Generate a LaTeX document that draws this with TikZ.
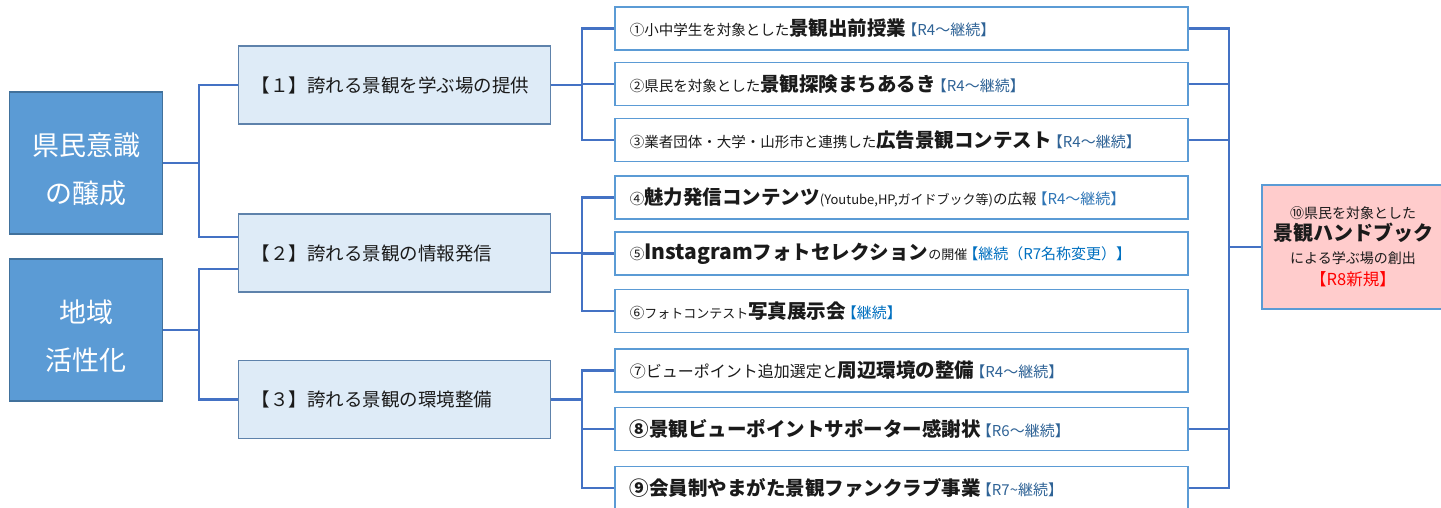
\documentclass[tikz,border=0pt]{standalone}
\usepackage{fontspec}
\setmainfont{Noto Sans CJK JP}
\usetikzlibrary{calc}
\definecolor{leftfill}{HTML}{5B9BD5}
\definecolor{leftdraw}{HTML}{41719C}
\definecolor{midfill}{HTML}{DEEBF7}
\definecolor{middraw}{HTML}{5E82AB}
\definecolor{smalldraw}{HTML}{5B9BD5}
\definecolor{connc}{HTML}{4472C4}
\definecolor{tagdark}{HTML}{2F6396}
\definecolor{tagmid}{HTML}{2E75B6}
\definecolor{tagbright}{HTML}{0070C0}
\definecolor{pinkfill}{HTML}{FFCCCC}
\definecolor{txt}{HTML}{1A1A1A}
\newcommand\nrm[1]{{\fontsize{14.5}{17}\selectfont #1}}
\newcommand\sml[1]{{\fontsize{13}{17}\selectfont #1}}
\newcommand\bld[1]{{\fontsize{19.5}{22}\selectfont\bfseries #1}}
\newcommand\tagtxt[2]{{\fontsize{15}{17}\selectfont\color{#1}\kern-4pt#2}}
\begin{document}
\begin{tikzpicture}[x=1pt,y=-1pt,
  leftbox/.style={draw=leftdraw, line width=1.5pt, fill=leftfill,
    minimum width=153pt, minimum height=142pt},
  lefttext/.style={text=white, align=center, font=\fontsize{27}{48}\selectfont},
  midbox/.style={draw=middraw, line width=1.4pt, fill=midfill, text=txt,
    anchor=west, text width=286pt, inner xsep=13pt, minimum height=78pt,
    align=left, font=\fontsize{18.5}{22}\selectfont},
  sbox/.style={draw=smalldraw, line width=1.8pt, fill=white, text=txt,
    anchor=west, text width=543pt, inner xsep=15pt, inner ysep=0pt,
    minimum height=43pt, align=left},
  conn/.style={draw=connc, line width=2.6pt}]
\useasboundingbox (0,0) rectangle (1441,508);
\clip (0,0) rectangle (1441,508);
\fill[white] (0,0) rectangle (1441,508);

% left boxes
\node[leftbox] (L1) at (86,163) {};
\node[lefttext] (L1t) at (86,169) {県民意識\\の醸成};
\node[leftbox] (L2) at (86,330) {};
\node[lefttext] (L2t) at (86,336) {地域\\活性化};

% middle boxes
\node[midbox] (M1) at (238,85) {【１】誇れる景観を学ぶ場の提供};
\node[midbox] (M2) at (238,253) {【２】誇れる景観の情報発信};
\node[midbox] (M3) at (238,399.5) {【３】誇れる景観の環境整備};

% small boxes
\node[sbox] (S1) at (614,28.5) {\nrm{①小中学生を対象とした}\bld{景観出前授業}\tagtxt{tagdark}{【R4～継続】}};
\node[sbox] (S2) at (614,84) {\nrm{②県民を対象とした}\bld{景観探険まちあるき}\tagtxt{tagdark}{【R4～継続】}};
\node[sbox] (S3) at (614,140) {\nrm{③業者団体・大学・山形市と連携した}\bld{広告景観コンテスト}\tagtxt{tagdark}{【R4～継続】}};
\node[sbox] (S4) at (614,197.5) {\nrm{④}\bld{魅力発信コンテンツ}\sml{(Youtube,HP,ガイドブック等)}\nrm{の広報}\tagtxt{tagmid}{【R4～継続】}};
\node[sbox] (S5) at (614,253.5) {\nrm{⑤}{\fontsize{21}{22}\selectfont\bfseries Instagram}\bld{フォトセレクション}\sml{の開催}\tagtxt{tagbright}{【継続（R7名称変更）】}};
\node[sbox] (S6) at (614,311) {\nrm{⑥}\sml{フォトコンテスト}\bld{写真展示会}\tagtxt{tagbright}{【継続】}};
\node[sbox] (S7) at (614,370.5) {{\fontsize{16}{17}\selectfont ⑦ビューポイント追加選定と}\bld{周辺環境の整備}\tagtxt{tagdark}{【R4～継続】}};
\node[sbox] (S8) at (614,429) {\bld{⑧景観ビューポイントサポーター感謝状}\tagtxt{tagdark}{【R6～継続】}};
\node[sbox] (S9) at (614,488) {\bld{⑨会員制やまがた景観ファンクラブ事業}\tagtxt{tagdark}{【R7\char`\~継続】}};

% right box
\node[draw=smalldraw, line width=1.6pt, fill=pinkfill, text=txt,
  minimum width=182pt, minimum height=124pt, align=center, inner sep=0pt,
  font=\fontsize{14}{22.5}\selectfont] (R) at (1353,247)
  {⑩県民を対象とした\\
   {\fontsize{20}{22.5}\selectfont\bfseries 景観ハンドブック}\\
   による学ぶ場の創出\\
   {\fontsize{16.5}{22.5}\selectfont\color{red}【R8新規】}};

% connectors left -> middle
\coordinate (j1) at (199,163);
\coordinate (j2) at (199,330);
\coordinate (m2a) at (238,237);
\coordinate (m2b) at (238,269);
\draw[conn] (L1.east) -- (j1);
\draw[conn] (M1.west) -| (j1) |- (m2a);
\draw[conn] (L2.east) -- (j2);
\draw[conn] (m2b) -| (j2) |- (M3.west);

% middle -> small
\coordinate (k1) at (582,85);
\coordinate (k2) at (582,253);
\coordinate (k3) at (582,399.5);
\draw[conn] (M1.east) -- (k1);
\draw[conn] (S1.west) -| (k1) |- (S3.west);
\draw[conn] (S2.west) -- (k1 |- S2.west);
\draw[conn] (M2.east) -- (k2);
\draw[conn] (S4.west) -| (k2) |- (S6.west);
\draw[conn] (S5.west) -- (k2 |- S5.west);
\draw[conn] (M3.east) -- (k3);
\draw[conn] (S7.west) -| (k3) |- (S9.west);
\draw[conn] (S8.west) -- (k3 |- S8.west);

% small -> right
\coordinate (r1) at (1229,247);
\draw[conn] (S1.east) -| (r1) |- (S9.east);
\draw[conn] (S2.east) -- (r1 |- S2.east);
\draw[conn] (S3.east) -- (r1 |- S3.east);
\draw[conn] (S8.east) -- (r1 |- S8.east);
\draw[conn] (r1) -- (R.west);
\end{tikzpicture}
\end{document}
